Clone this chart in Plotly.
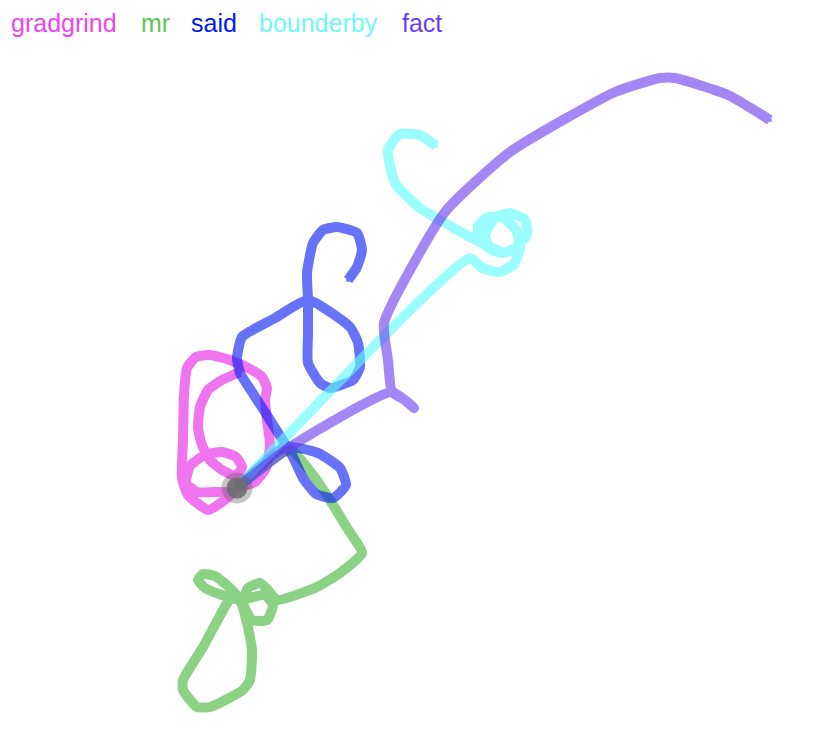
import plotly.graph_objects as go

# word walks: every walk starts at the origin (0, 0), y points up
words = ["gradgrind", "mr", "said", "bounderby", "fact"]
colors = ["#e820e8", "#45b83a", "#0a1cf5", "#5ffcfc", "#6a3ef0"]
label_colors = ["#ee44ee", "#66c455", "#0018f0", "#70f8f8", "#6a3ef0"]

gradgrind_x = [0, 18, 29, 33, 30, 28, 30, 25, 13, -7, -27, -41, -50, -53, -54, -55, -49, -29, -15, -5,
               -22, -40, -51, -47, -32, -15, -1, 5, -1, -15, -27, -35, -39, -37, -29, -15, 3]
gradgrind_y = [0, 6, 20, 43, 68, 88, 100, 111, 119, 128, 133, 131, 120, 93, 48, 10, -7, -22, -14, -5,
               -4, -4, 5, 22, 33, 36, 31, 21, 12, 18, 28, 43, 60, 81, 98, 108, 116]

mr_x = [0, 53, 76, 93, 110, 125, 103, 80, 40, 31, 23, 11, 6, 15, 30, 36, 28, 3, -15, -32, -39, -34,
        -22, -7, 3, 10, 15, 13, 6, -27, -40, -54, -54, -34, -10, -4]
mr_y = [0, 38, 13, -12, -40, -65, -85, -99, -112, -102, -95, -100, -115, -132, -132, -117, -107, -112,
        -107, -100, -92, -86, -88, -100, -112, -135, -162, -192, -202, -219, -219, -202, -192, -159,
        -115, -107]

said_x = [0, 48, 81, 103, 109, 96, 79, 66, 55, 33, 15, 3, 0, 5, 38, 71, 113, 121, 123, 116, 93, 83,
          71, 71, 71, 70, 76, 86, 100, 120, 125, 120, 111]
said_y = [0, 41, 35, 20, 3, -10, -6, 10, 33, 68, 96, 115, 130, 151, 170, 188, 161, 145, 121, 108,
          100, 105, 125, 155, 188, 215, 245, 258, 261, 255, 238, 221, 208]

bounderby_x = [0, 233, 245, 263, 277, 283, 279, 266, 251, 241, 243, 255, 266, 278, 290, 288, 273,
               258, 248, 253, 266, 233, 183, 158, 151, 163, 183, 199]
bounderby_y = [0, 230, 220, 216, 224, 240, 258, 270, 271, 262, 248, 238, 235, 240, 253, 268, 275,
               270, 253, 240, 235, 251, 280, 305, 338, 354, 353, 342]

fact_x = [0, 53, 155, 177, 168, 155, 151, 147, 208, 273, 378, 423, 438, 491, 533]
fact_y = [0, 41, 96, 80, 88, 96, 128, 165, 276, 336, 396, 410, 410, 393, 368]

walks_x = [gradgrind_x, mr_x, said_x, bounderby_x, fact_x]
walks_y = [gradgrind_y, mr_y, said_y, bounderby_y, fact_y]

label_left = [2, 132, 182, 250, 393]

fig = go.Figure()
for word, color, xs, ys in zip(words, colors, walks_x, walks_y):
    fig.add_trace(go.Scatter(
        x=xs, y=ys, mode="lines+markers", name=word,
        line=dict(color=color, width=10, shape="spline", smoothing=0.5),
        marker=dict(color=color, size=4),
        opacity=0.62, hoverinfo="name"
    ))

# origin
fig.add_trace(go.Scatter(x=[0], y=[0], mode="markers",
                         marker=dict(color="rgba(90,90,90,0.35)", size=31), hoverinfo="skip"))
fig.add_trace(go.Scatter(x=[0], y=[0], mode="markers",
                         marker=dict(color="rgba(110,110,110,0.9)", size=21), hoverinfo="skip"))

for word, c, left in zip(words, label_colors, label_left):
    fig.add_annotation(x=left / 826, y=1, xref="paper", yref="paper",
                       xanchor="left", yanchor="top", borderpad=0, text=word, showarrow=False,
                       font=dict(family="Liberation Sans, Arial", size=25, color=c))

fig.update_layout(
    width=826, height=744,
    margin=dict(l=0, r=0, t=0, b=0),
    paper_bgcolor="white", plot_bgcolor="white",
    showlegend=False,
    xaxis=dict(range=[-229, 597], visible=False, fixedrange=True),
    yaxis=dict(range=[-264, 480], visible=False, fixedrange=True),
)

fig.write_html("out.html")
